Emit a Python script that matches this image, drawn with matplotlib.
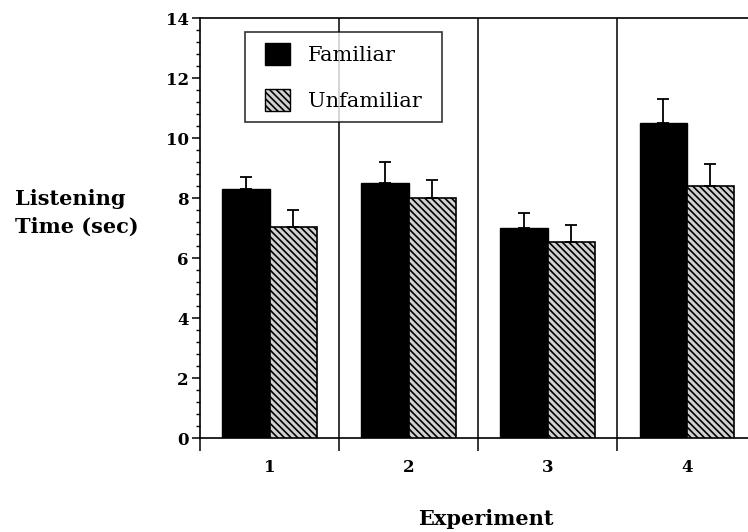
import numpy as np
import matplotlib.pyplot as plt
from matplotlib.ticker import MultipleLocator, FixedLocator
from matplotlib.patches import Patch
from matplotlib.legend_handler import HandlerPatch

plt.rcParams['font.family'] = ['DejaVu Serif']
plt.rcParams['hatch.linewidth'] = 1.2
plt.rcParams['hatch.color'] = '#3a3a3a'

experiments = ['1', '2', '3', '4']
familiar = [8.3, 8.5, 7.0, 10.5]
familiar_err = [0.4, 0.7, 0.5, 0.8]
unfamiliar = [7.05, 8.0, 6.55, 8.4]
unfamiliar_err = [0.55, 0.6, 0.55, 0.75]

HATCH = '\\\\\\\\\\'
HATCH_FACE = '#d2d2d2'

fig = plt.figure(figsize=(7.48, 5.32), dpi=100)
ax = fig.add_axes([0.2674, 0.1761, 0.7326, 0.7895])

x = np.arange(1, len(experiments) + 1)
w = 0.34

ax.bar(x - w / 2, familiar, w, color='black', edgecolor='black', linewidth=1,
       yerr=[np.zeros(4), familiar_err], error_kw=dict(ecolor='black', elinewidth=1.3, capsize=4, capthick=1.3),
       zorder=3)
ax.bar(x + w / 2, unfamiliar, w, color=HATCH_FACE, edgecolor='black', linewidth=1.2,
       hatch=HATCH, yerr=[np.zeros(4), unfamiliar_err],
       error_kw=dict(ecolor='black', elinewidth=1.3, capsize=4, capthick=1.3), zorder=3)

# panel separators between experiments
for sep in x[:-1] + 0.5:
    ax.axvline(sep, color='black', linewidth=1.1, zorder=1)

ax.set_xlim(0.5, 4.44)
ax.set_ylim(0, 14)

ax.xaxis.set_major_locator(FixedLocator([0.5, 1.5, 2.5, 3.5]))
ax.xaxis.set_minor_locator(FixedLocator(list(x)))
ax.set_xticklabels([], minor=False)
ax.set_xticklabels(experiments, minor=True, fontweight='bold', fontsize=12)
ax.tick_params(axis='x', which='major', direction='out', length=9, width=1.1)
ax.tick_params(axis='x', which='minor', length=0, pad=15)

ax.yaxis.set_major_locator(MultipleLocator(2))
ax.yaxis.set_minor_locator(MultipleLocator(0.4))
ax.tick_params(axis='y', which='major', direction='out', length=6, width=1.1, labelsize=12, pad=2)
ax.tick_params(axis='y', which='minor', direction='out', length=3, width=1)
for lab in ax.get_yticklabels():
    lab.set_fontweight('bold')

ax.spines['right'].set_visible(False)
for s in ['left', 'bottom', 'top']:
    ax.spines[s].set_linewidth(1.2)

fig.text(0.02, 0.60, 'Listening\nTime (sec)', fontsize=15, fontweight='bold',
         ha='left', va='center', linespacing=1.45)
fig.text(0.65, 0.025, 'Experiment', fontsize=15, fontweight='bold', ha='center', va='center')

handles = [Patch(facecolor='black', edgecolor='black', label='Familiar'),
           Patch(facecolor=HATCH_FACE, edgecolor='black', hatch=HATCH, label='Unfamiliar')]
leg = ax.legend(handles=handles, loc='upper left', bbox_to_anchor=(0.082, 0.0, 0.3595, 0.9674),
                mode='expand', fontsize=15, frameon=True, fancybox=False, edgecolor='black',
                handler_map={Patch: HandlerPatch(xpad=0.45)},
                handlelength=1.65, handleheight=1.3, labelspacing=1.12,
                borderpad=0.51, handletextpad=0.87, borderaxespad=0)
leg.get_frame().set_linewidth(1.2)
leg.set_zorder(5)

fig.savefig('out.png', dpi=100)
